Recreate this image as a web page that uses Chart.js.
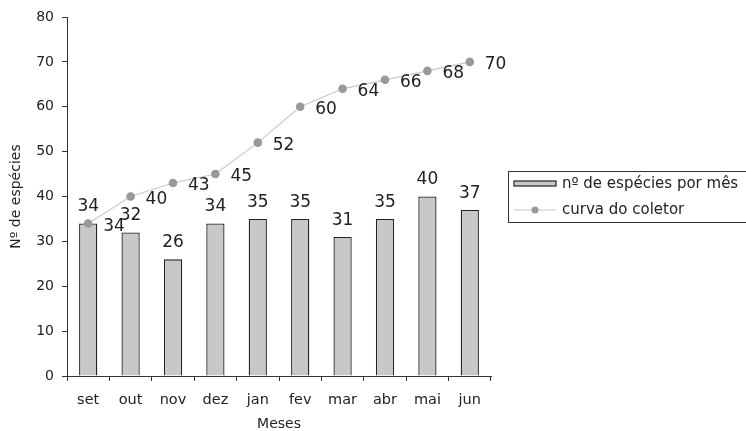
<!DOCTYPE html>
<html><head><meta charset="utf-8">
<script src="https://cdn.jsdelivr.net/npm/chart.js@4"></script>
<style>html,body{margin:0;padding:0;background:#fff}#wrap{width:746px;height:431px;position:relative}</style>
</head><body><div id="wrap"><canvas id="c"></canvas></div>
<script>
const months = ['set','out','nov','dez','jan','fev','mar','abr','mai','jun'];
const speciesPerMonth = [34,32,26,34,35,35,31,35,40,37];
const collectorCurve = [34,40,43,45,52,60,64,66,68,70];
const yTicks = [0,10,20,30,40,50,60,70,80];
const seriesNames = ['nº de espécies por mês','curva do coletor'];
const axisTitles = {x:'Meses', y:'Nº de espécies'};

const FONT = "'DejaVu Sans', Arial, sans-serif";
const labelsPlugin = {
  id:'labels',
  afterDatasetsDraw(chart){
    const ctx = chart.ctx;
    ctx.save();
    ctx.font = '17px ' + FONT;
    ctx.fillStyle = '#222';
    const barMeta = chart.getDatasetMeta(0);
    ctx.textAlign='center'; ctx.textBaseline='bottom';
    barMeta.data.forEach((el,i)=>{ ctx.fillText(String(speciesPerMonth[i]), el.x, el.y - 8); });
    const lineMeta = chart.getDatasetMeta(1);
    ctx.textAlign='left'; ctx.textBaseline='middle';
    lineMeta.data.forEach((el,i)=>{ ctx.fillText(String(collectorCurve[i]), el.x + 15, el.y + 3); });
    ctx.restore();
  }
};
const legendPlugin = {
  id:'boxLegend',
  afterDraw(chart){
    const ctx = chart.ctx;
    ctx.save();
    const x0=508, y0=171, w=245, h=51;
    ctx.strokeStyle='#333'; ctx.lineWidth=1;
    ctx.strokeRect(x0+0.5,y0+0.5,w,h);
    ctx.fillStyle='#c8c8c8'; ctx.fillRect(514,181,42,5);
    ctx.strokeStyle='#222'; ctx.lineWidth=1.2; ctx.strokeRect(514,181,42,5);
    ctx.strokeStyle='#c8c8c8'; ctx.lineWidth=1.2;
    ctx.beginPath(); ctx.moveTo(514,210); ctx.lineTo(556,210); ctx.stroke();
    ctx.fillStyle='#999'; ctx.beginPath(); ctx.arc(535,210,3.5,0,Math.PI*2); ctx.fill();
    ctx.fillStyle='#222'; ctx.font='15px '+FONT; ctx.textAlign='left'; ctx.textBaseline='middle';
    ctx.fillText(seriesNames[0],562,184);
    ctx.fillText(seriesNames[1],562,210);
    ctx.restore();
  }
};
new Chart(document.getElementById('c'),{
  data:{
    labels: months,
    datasets:[
      {type:'bar', label:seriesNames[0], data:speciesPerMonth, backgroundColor:'#c8c8c8', borderColor:'#222', borderWidth:1.3, barPercentage:0.43, categoryPercentage:1, order:2},
      {type:'line', label:seriesNames[1], data:collectorCurve, borderColor:'#c8c8c8', borderWidth:1.2, pointBackgroundColor:'#999', pointBorderColor:'#999', pointRadius:3.7, tension:0, order:1}
    ]
  },
  options:{
    responsive:true, maintainAspectRatio:false, animation:false,
    layout:{padding:{top:17,right:255,bottom:0,left:9}},
    plugins:{legend:{display:false}, tooltip:{enabled:false}},
    scales:{
      x:{
        grid:{display:true, drawOnChartArea:false, color:'#333', tickLength:5, offset:true},
        border:{color:'#333', width:1},
        ticks:{color:'#222', font:{family:FONT,size:14.5}, padding:11},
        title:{display:true, text:axisTitles.x, color:'#222', font:{family:FONT,size:14,lineHeight:1}, padding:{top:2,bottom:0}},
        afterFit(s){ s.height = 55; }
      },
      y:{
        min:0, max:80,
        afterBuildTicks(s){ s.ticks = yTicks.map(v=>({value:v})); },
        grid:{display:true, drawOnChartArea:false, color:'#333', tickLength:5},
        border:{color:'#333', width:1},
        ticks:{color:'#222', font:{family:FONT,size:14}, padding:8},
        title:{display:true, text:axisTitles.y, color:'#222', font:{family:FONT,size:14,lineHeight:1}, padding:{top:0,bottom:8}},
        afterFit(s){ s.width = 58; }
      }
    }
  },
  plugins:[labelsPlugin, legendPlugin]
});
</script></body></html>
